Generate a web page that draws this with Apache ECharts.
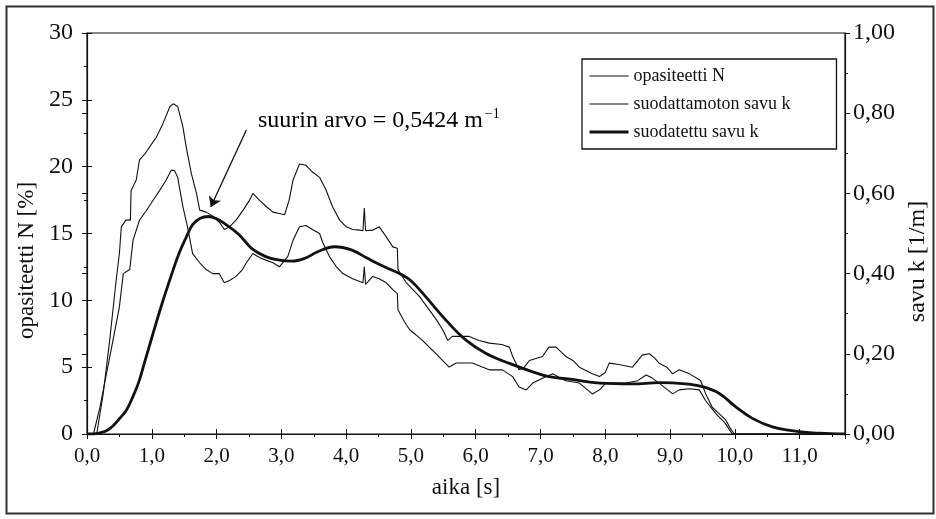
<!DOCTYPE html>
<html><head><meta charset="utf-8">
<script src="https://cdn.jsdelivr.net/npm/echarts@6/dist/echarts.min.js"></script>
<style>html,body{margin:0;padding:0;background:#fff}#c{width:936px;height:519px}</style>
</head><body><div id="c"></div>
<script>
// ---- data ----
const xMin = 0, xMax = 11.7, xStep = 1;
const leftMin = 0, leftMax = 30, leftStep = 5;
const rightMin = 0, rightMax = 1, rightStep = 0.2;

// opasiteetti N [%] (left axis) : [aika s, N %]
const opasiteettiN = [[0,0],[0.15,0],[0.25,3],[0.35,7],[0.45,11.5],[0.5,13.5],[0.53,15.5],[0.6,16],[0.67,16],[0.68,18.2],[0.76,19],[0.81,20.5],[0.9,21],[0.97,21.5],[1.07,22.2],[1.17,23.2],[1.28,24.5],[1.33,24.7],[1.4,24.5],[1.48,23],[1.53,21.5],[1.61,19.5],[1.69,18],[1.74,16.75],[1.84,16.6],[1.94,16.3],[2.05,15.8],[2.12,15.3],[2.2,15.5],[2.3,16],[2.41,16.75],[2.51,17.5],[2.56,18],[2.66,17.5],[2.77,17],[2.87,16.6],[2.97,16.5],[3.05,16.4],[3.12,17.5],[3.18,19],[3.28,20.2],[3.38,20.1],[3.48,19.6],[3.59,19.2],[3.69,18.25],[3.79,17],[3.9,16],[4.0,15.5],[4.1,15.3],[4.21,15.25],[4.26,15.2],[4.28,16.9],[4.3,15.2],[4.41,15.25],[4.51,15.5],[4.62,14.75],[4.72,14.0],[4.79,13.9],[4.8,12.3],[4.93,11.3],[5.03,10.8],[5.13,10.3],[5.28,9.3],[5.4,8.5],[5.49,7.8],[5.57,7.0],[5.64,7.3],[5.9,7.3],[6.05,7.0],[6.21,6.8],[6.4,6.7],[6.52,6.5],[6.57,5.8],[6.67,4.8],[6.75,5.0],[6.83,5.5],[7.03,5.8],[7.13,6.5],[7.24,6.5],[7.39,5.8],[7.5,5.5],[7.6,5.0],[7.8,4.5],[7.91,4.3],[8.0,4.6],[8.06,5.3],[8.21,5.2],[8.42,5.0],[8.57,5.9],[8.68,6.0],[8.76,5.7],[8.83,5.3],[8.95,5.0],[9.04,4.5],[9.14,4.8],[9.3,4.5],[9.47,4.0],[9.55,3.0],[9.65,2.0],[9.76,1.5],[9.86,1.05],[9.92,0.5],[9.99,0],[11.7,0]];

// suodattamoton savu k [1/m] (right axis)
const savuRaw = [[0,0],[0.1,0],[0.2,0.067],[0.3,0.150],[0.4,0.233],[0.5,0.317],[0.56,0.400],[0.66,0.410],[0.71,0.483],[0.81,0.533],[0.92,0.558],[1.02,0.583],[1.12,0.607],[1.22,0.633],[1.3,0.658],[1.35,0.657],[1.4,0.640],[1.48,0.567],[1.56,0.510],[1.63,0.450],[1.74,0.427],[1.84,0.410],[1.94,0.400],[2.04,0.400],[2.12,0.377],[2.2,0.383],[2.3,0.393],[2.4,0.410],[2.46,0.427],[2.56,0.450],[2.66,0.440],[2.77,0.433],[2.87,0.427],[2.97,0.417],[3.1,0.443],[3.18,0.483],[3.28,0.517],[3.38,0.520],[3.48,0.510],[3.59,0.500],[3.64,0.477],[3.74,0.443],[3.85,0.417],[3.95,0.400],[4.1,0.387],[4.26,0.377],[4.28,0.417],[4.3,0.373],[4.41,0.393],[4.51,0.387],[4.62,0.377],[4.72,0.360],[4.79,0.350],[4.8,0.310],[4.9,0.280],[4.98,0.260],[5.08,0.247],[5.18,0.233],[5.28,0.217],[5.39,0.200],[5.49,0.183],[5.59,0.167],[5.7,0.177],[5.95,0.177],[6.1,0.167],[6.21,0.160],[6.41,0.160],[6.57,0.143],[6.67,0.117],[6.78,0.110],[6.88,0.127],[7.08,0.143],[7.19,0.150],[7.3,0.140],[7.39,0.133],[7.6,0.127],[7.8,0.100],[7.91,0.110],[8.01,0.127],[8.32,0.127],[8.5,0.133],[8.63,0.147],[8.72,0.140],[8.83,0.127],[9.04,0.100],[9.14,0.110],[9.3,0.113],[9.45,0.110],[9.55,0.083],[9.71,0.050],[9.85,0.027],[9.96,0],[11.7,0]];

// suodatettu savu k [1/m] (right axis, smooth)
const savuFiltered = [[0,0],[0.1,0],[0.2,0.003],[0.3,0.008],[0.4,0.02],[0.5,0.038],[0.61,0.06],[0.7,0.09],[0.8,0.13],[0.9,0.185],[1.0,0.24],[1.16,0.326],[1.3,0.395],[1.42,0.45],[1.53,0.49],[1.63,0.522],[1.75,0.538],[1.87,0.5424],[2.0,0.537],[2.13,0.524],[2.34,0.498],[2.54,0.463],[2.75,0.443],[2.95,0.434],[3.16,0.431],[3.36,0.438],[3.57,0.455],[3.82,0.467],[4.08,0.459],[4.33,0.438],[4.59,0.417],[4.85,0.398],[5.0,0.382],[5.23,0.342],[5.54,0.284],[5.85,0.234],[6.16,0.201],[6.52,0.176],[6.88,0.155],[7.13,0.143],[7.49,0.136],[7.91,0.127],[8.42,0.125],[8.83,0.128],[9.24,0.125],[9.5,0.118],[9.76,0.101],[10.01,0.068],[10.27,0.039],[10.58,0.018],[10.99,0.006],[11.3,0.002],[11.7,0]];

const seriesNames = ['opasiteetti N', 'suodattamoton savu k', 'suodatettu savu k'];
const arrowFrom = [2.46, 0.758];
const arrowTo = [1.91, 0.566];
const annotation = 'suurin arvo = 0,5424 m';

// ---- chart ----
const FONT = '"Liberation Serif", "DejaVu Serif", serif';
const INK = '#111';
const chart = echarts.init(document.getElementById('c'), null, {renderer: 'canvas'});

function baseAxis(extra) {
  return Object.assign({
    type: 'value',
    splitLine: {show: false},
    axisLine: {show: true, onZero: false, lineStyle: {color: INK, width: 1.2}},
    axisTick: {show: true, length: 5, lineStyle: {color: INK, width: 1}},
    minorTick: {show: true, splitNumber: 2, length: 3, lineStyle: {color: INK, width: 1}},
    minorSplitLine: {show: false}
  }, extra);
}
function ghostAxis(extra) {
  return Object.assign({
    type: 'value',
    splitLine: {show: false},
    axisLine: {show: false},
    axisLabel: {show: false},
    axisTick: {show: true, inside: true, length: 5, lineStyle: {color: INK, width: 1}},
    minorTick: {show: false}
  }, extra);
}

const option = {
  backgroundColor: '#fff',
  animation: false,
  textStyle: {fontFamily: FONT, color: INK},
  grid: {left: 87, right: 91, top: 33, bottom: 85, show: true, borderColor: INK, borderWidth: 1.2, containLabel: false, outerBoundsMode: 'none'},
  legend: {
    orient: 'vertical', left: 582, top: 59,
    data: [
      {name: seriesNames[0], lineStyle: {width: 1.1}},
      {name: seriesNames[1], lineStyle: {width: 1.1}},
      {name: seriesNames[2], lineStyle: {width: 3}}
    ],
    itemWidth: 39, itemHeight: 14, itemGap: 10,
    padding: [8, 46, 8, 6],
    borderColor: INK, borderWidth: 1.3,
    backgroundColor: '#fff',
    itemStyle: {opacity: 0},
    textStyle: {fontFamily: FONT, fontSize: 18, color: INK, lineHeight: 18}
  },
  xAxis: [
    baseAxis({min: xMin, max: xMax, interval: xStep, position: 'bottom',
      axisLabel: {fontFamily: FONT, fontSize: 21, color: INK, margin: 12, showMaxLabel: false,
        formatter: v => v.toFixed(1).replace('.', ',')},
      name: 'aika [s]', nameLocation: 'middle', nameGap: 42,
      nameTextStyle: {fontFamily: FONT, fontSize: 23, color: INK}}),
    ghostAxis({min: xMin, max: xMax, interval: xStep, position: 'bottom'})
  ],
  yAxis: [
    baseAxis({min: leftMin, max: leftMax, interval: leftStep, position: 'left',
      axisLabel: {fontFamily: FONT, fontSize: 24, color: INK, margin: 14},
      name: 'opasiteetti N [%]', nameLocation: 'middle', nameGap: 46, nameRotate: 90,
      nameTextStyle: {fontFamily: FONT, fontSize: 23, color: INK, padding: [0, 54, 0, 0]}}),
    baseAxis({min: rightMin, max: rightMax, interval: rightStep, position: 'right',
      axisLabel: {fontFamily: FONT, fontSize: 24, color: INK, margin: 8,
        formatter: v => v.toFixed(2).replace('.', ',')},
      name: 'savu k [1/m]', nameLocation: 'middle', nameGap: 58, nameRotate: 90,
      nameTextStyle: {fontFamily: FONT, fontSize: 24, color: INK, padding: [0, 56, 0, 0]}}),
    ghostAxis({min: leftMin, max: leftMax, interval: leftStep, position: 'left'}),
    ghostAxis({min: rightMin, max: rightMax, interval: rightStep, position: 'right'})
  ],
  series: [
    {name: seriesNames[0], type: 'line', xAxisIndex: 0, yAxisIndex: 0, data: opasiteettiN,
      symbol: 'none', lineStyle: {color: INK, width: 1.1}, itemStyle: {color: INK}, z: 3},
    {name: seriesNames[1], type: 'line', xAxisIndex: 0, yAxisIndex: 1, data: savuRaw,
      symbol: 'none', lineStyle: {color: INK, width: 1.1}, itemStyle: {color: INK}, z: 3},
    {name: seriesNames[2], type: 'line', xAxisIndex: 0, yAxisIndex: 1, data: savuFiltered,
      symbol: 'none', smooth: 0.4, lineStyle: {color: INK, width: 2.8}, itemStyle: {color: INK}, z: 4,
      markLine: {
        silent: true, symbol: ['none', 'arrow'], symbolSize: 10,
        lineStyle: {color: INK, width: 1.3, type: 'solid'}, itemStyle: {color: INK},
        label: {show: false}, emphasis: {disabled: true},
        data: [[{coord: arrowFrom}, {coord: arrowTo}]]
      }}
  ],
  graphic: [
    {type: 'rect', left: 4, top: 4, shape: {width: 927, height: 507}, style: {fill: 'none', stroke: '#333', lineWidth: 2}, silent: true},
    {type: 'text', x: 258, y: 121, style: {
      text: '{a|' + annotation + '}{s|−1}',
      verticalAlign: 'middle',
      rich: {
        a: {fontFamily: FONT, fontSize: 24, color: INK, lineHeight: 30},
        s: {fontFamily: FONT, fontSize: 14, color: INK, lineHeight: 30, padding: [0, 0, 14, 2]}
      }}}
  ]
};
chart.setOption(option);
</script></body></html>
